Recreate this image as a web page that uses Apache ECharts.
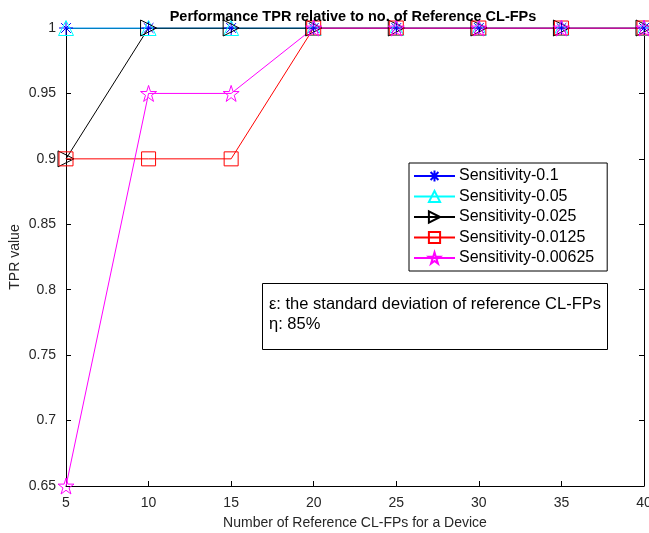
<!DOCTYPE html>
<html>
<head>
<meta charset="utf-8">
<script src="https://cdn.jsdelivr.net/npm/echarts@6/dist/echarts.min.js"></script>
<style>html,body{margin:0;padding:0;background:#fff;}#c{width:649px;height:533px;}</style>
</head>
<body>
<div id="c"></div>
<script>
var xValues = [5, 10, 15, 20, 25, 30, 35, 40];
var s01 = [1, 1, 1, 1, 1, 1, 1, 1];
var s005 = [1, 1, 1, 1, 1, 1, 1, 1];
var s0025 = [0.9, 1, 1, 1, 1, 1, 1, 1];
var s00125 = [0.9, 0.9, 0.9, 1, 1, 1, 1, 1];
var s000625 = [0.65, 0.95, 0.95, 1, 1, 1, 1, 1];
var seriesNames = ['Sensitivity-0.1', 'Sensitivity-0.05', 'Sensitivity-0.025', 'Sensitivity-0.0125', 'Sensitivity-0.00625'];
var noteLines = ['\u03b5: the standard deviation of reference CL-FPs', '\u03b7: 85%'];

var FONT = 'Liberation Sans, Arial, sans-serif';
var asterisk = 'path://M0,-1L0,1M-1,0L1,0M-0.7,-0.7L0.7,0.7M-0.7,0.7L0.7,-0.7';
var rightTri = 'path://M0,0L1.7,1L0,2Z';
var star = 'path://M0,-1L0.2245,-0.309L0.951,-0.309L0.3633,0.118L0.5878,0.809L0,0.382L-0.5878,0.809L-0.3633,0.118L-0.951,-0.309L-0.2245,-0.309Z';

function pairs(arr) { return xValues.map(function (x, i) { return [x, arr[i]]; }); }
function mk(name, data, color, symbol, size) {
  return {
    name: name, type: 'line', data: pairs(data),
    symbol: symbol, symbolSize: size, showAllSymbol: true,
    lineStyle: { color: color, width: 1 },
    itemStyle: { color: 'rgba(0,0,0,0)', borderColor: color, borderWidth: 1 },
    emphasis: { disabled: true }, animation: false
  };
}

var chart = echarts.init(document.getElementById('c'));
var axisCommon = {
  axisLine: { show: true, lineStyle: { color: '#000', width: 1 } },
  axisTick: { show: true, inside: true, length: 5, lineStyle: { color: '#000' } },
  splitLine: { show: false }
};
chart.setOption({
  animation: false,
  title: {
    text: 'Performance TPR relative to no. of Reference CL-FPs',
    left: 348, top: 4, textAlign: 'center',
    textStyle: { fontFamily: FONT, fontSize: 14.5, fontWeight: 'bold', color: '#000' }
  },
  grid: { left: 66, right: 5, top: 28, bottom: 47, show: false, containLabel: false, outerBoundsMode: 'none' },
  legend: {
    orient: 'vertical', left: 409, top: 163,
    data: seriesNames,
    backgroundColor: '#fff', borderColor: '#000', borderWidth: 1,
    padding: [5, 13, 5, 4], itemWidth: 41, itemHeight: 14, itemGap: 4.5,
    lineStyle: { width: 2 },
    textStyle: { fontFamily: FONT, fontSize: 16, color: '#000', padding: [0, 0, 0, -1] }
  },
  xAxis: [
    Object.assign({
      type: 'value', min: 5, max: 40, interval: 5,
      name: 'Number of Reference CL-FPs for a Device', nameLocation: 'middle', nameGap: 30,
      nameMoveOverlap: false,
      nameTextStyle: { fontFamily: FONT, fontSize: 14, color: '#262626' },
      axisLabel: { fontFamily: FONT, fontSize: 14, color: '#262626', margin: 10 }
    }, axisCommon),
    Object.assign({
      type: 'value', min: 5, max: 40, interval: 5, position: 'top',
      axisLabel: { show: false }
    }, axisCommon)
  ],
  yAxis: [
    Object.assign({
      type: 'value', min: 0.65, max: 1, interval: 0.05,
      name: 'TPR value', nameLocation: 'middle', nameGap: 44,
      nameMoveOverlap: false,
      nameTextStyle: { fontFamily: FONT, fontSize: 14, color: '#262626' },
      axisLabel: { fontFamily: FONT, fontSize: 14, color: '#262626', margin: 10 }
    }, axisCommon),
    Object.assign({
      type: 'value', min: 0.65, max: 1, interval: 0.05, position: 'right',
      axisLabel: { show: false }
    }, axisCommon)
  ],
  series: [
    mk(seriesNames[0], s01, '#0000ff', asterisk, 14),
    mk(seriesNames[1], s005, '#00ffff', 'triangle', 15),
    mk(seriesNames[2], s0025, '#000000', rightTri, 16),
    mk(seriesNames[3], s00125, '#ff0000', 'rect', 14),
    mk(seriesNames[4], s000625, '#ff00ff', star, 16)
  ],
  graphic: [
    { type: 'rect', left: 262, top: 283, shape: { width: 345, height: 66 },
      style: { fill: '#fff', stroke: '#000', lineWidth: 1 }, z: 100 },
    { type: 'text', left: 269, top: 296, z: 101,
      style: { text: noteLines[0], fontFamily: FONT, fontSize: 16.5, fill: '#000' } },
    { type: 'text', left: 269, top: 316, z: 101,
      style: { text: noteLines[1], fontFamily: FONT, fontSize: 16.5, fill: '#000' } }
  ]
});
</script>
</body>
</html>
